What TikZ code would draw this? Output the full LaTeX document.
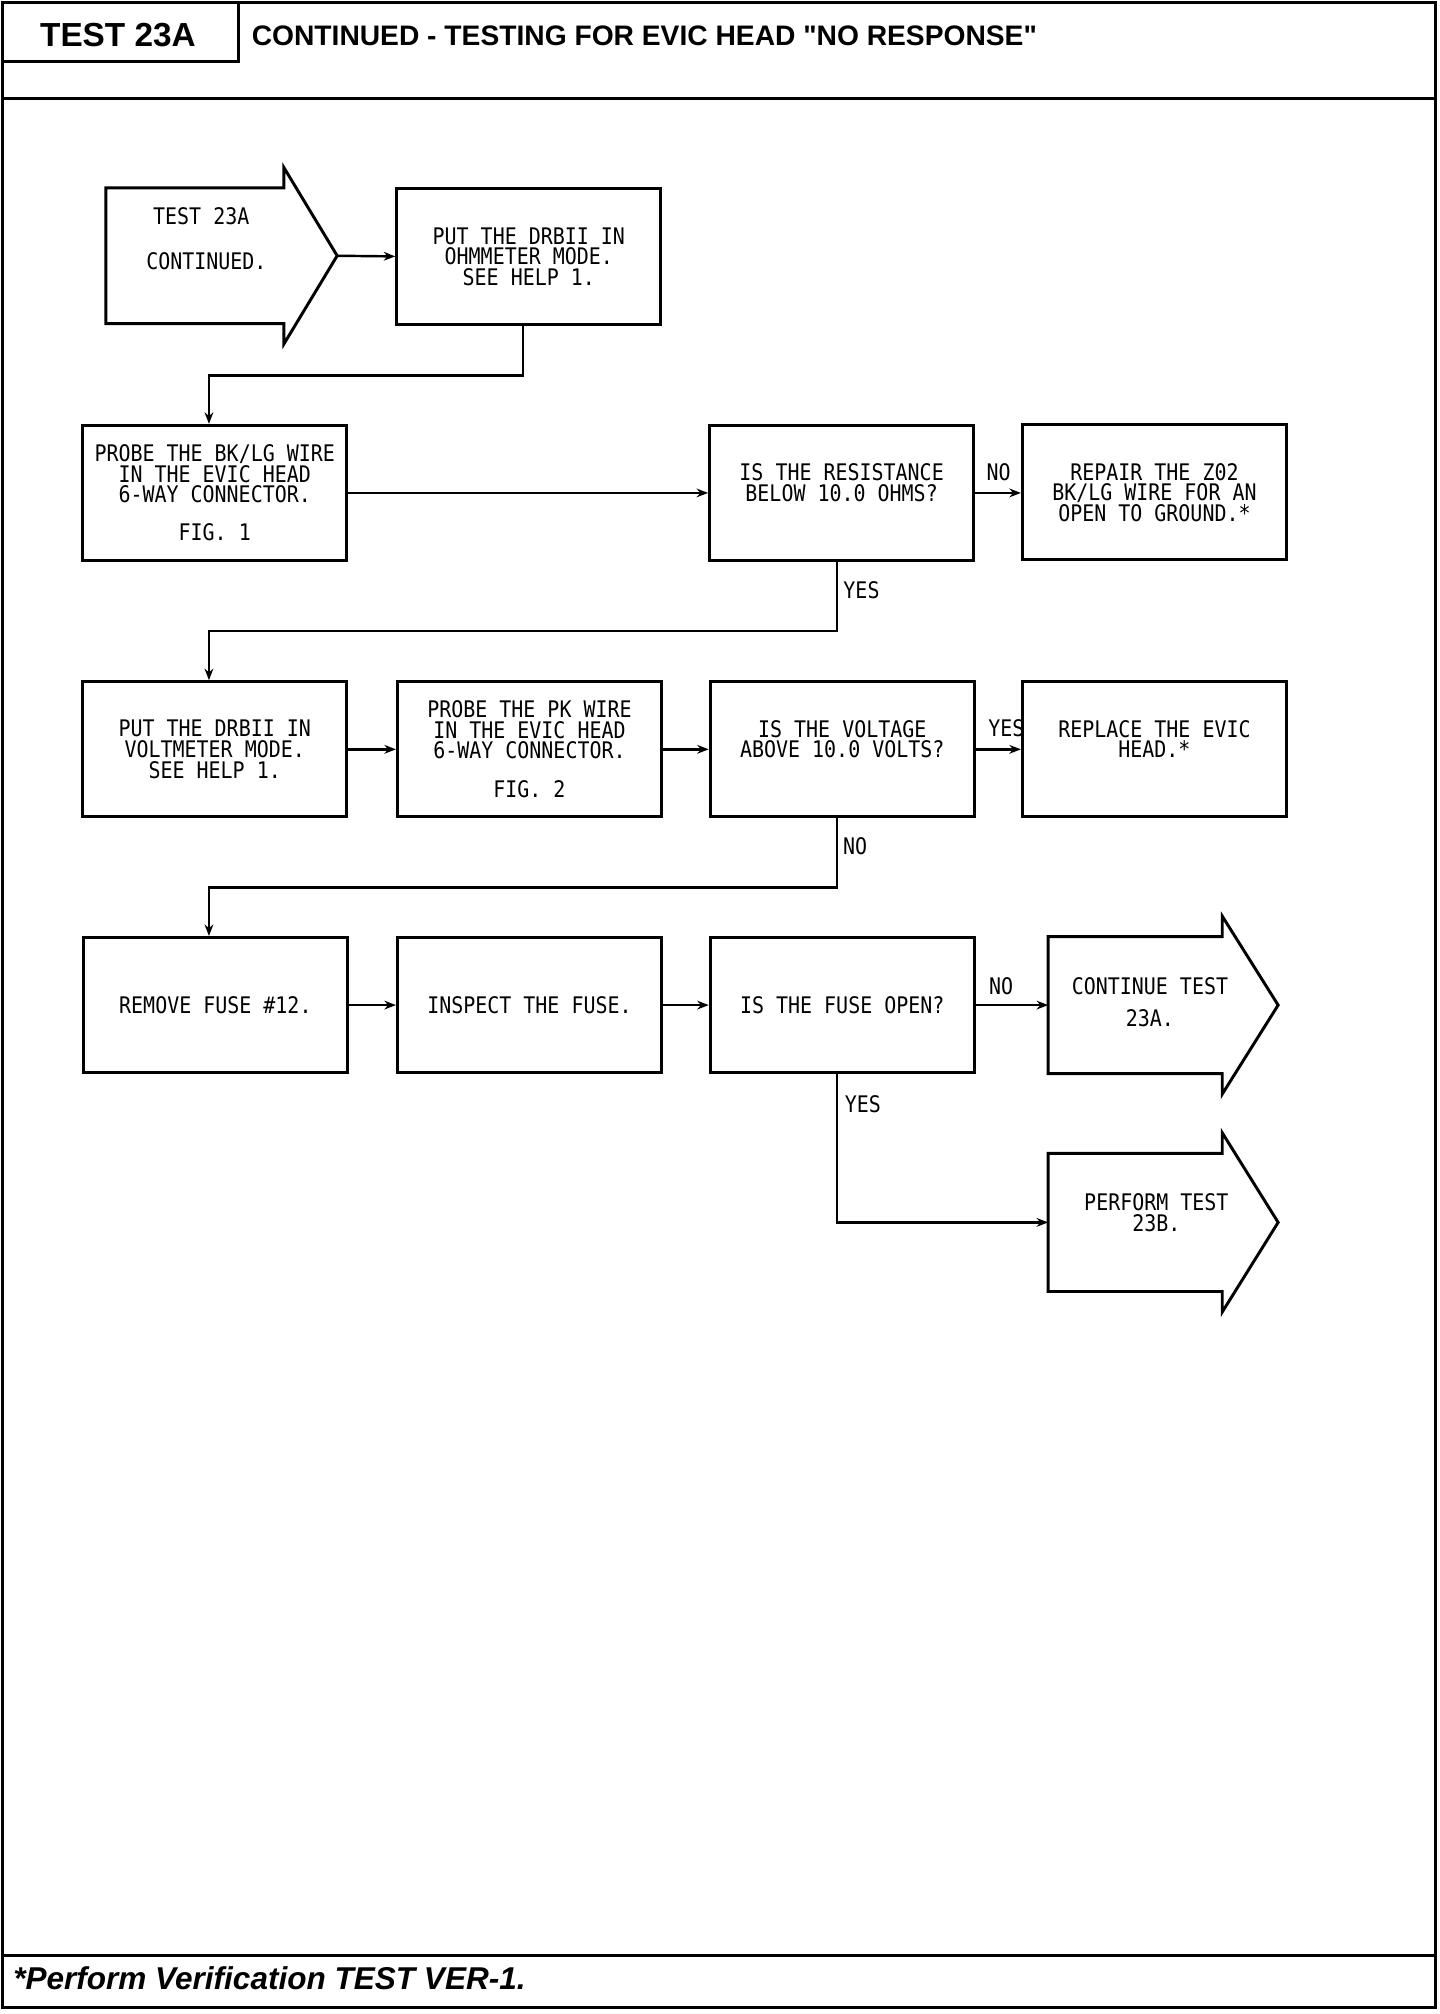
\documentclass[tikz,border=0pt]{standalone}
\usepackage{fontspec}
\setmainfont{Liberation Sans}
\newfontfamily\plotfont[FakeStretch=0.875]{DejaVu Sans Mono}
\newcommand\plottxt{\plotfont\fontsize{8.9}{8}\selectfont\lineskiplimit=-20pt}
\usetikzlibrary{arrows.meta,calc}
\begin{document}
\begin{tikzpicture}[x=0.5pt,y=-0.5pt,
  bordr/.style={line width=1.2pt},
  boxnode/.style={draw,line width=1.15pt,inner sep=0pt,align=center,
     minimum width=103pt,minimum height=52.75pt,font=\plottxt},
  bodynode/.style={inner sep=0pt},
  outl/.style={line width=1.15pt,line join=miter},
  plot/.style={inner sep=0pt,align=center,font=\plottxt},
  lbl/.style={inner sep=0pt,font=\plottxt},
  conn/.style={line width=0.95pt,-{Stealth[length=4.5pt,width=3.4pt]}}]
\useasboundingbox (0,0) rectangle (1123,1571);
% frame
\draw[bordr] (2,2) rectangle (1120,1566);
\draw[bordr] (2,77) -- (1120,77);
\draw[bordr] (2,1525) -- (1120,1525);
\draw[bordr] (2,2) rectangle (186,48);
\node[inner sep=0pt,font=\bfseries\fontsize{13}{13}\selectfont] (hdr) at (92,27) {TEST 23A};
\node[anchor=west,inner sep=0pt,font=\bfseries\fontsize{11}{11}\selectfont] (title) at (196,28) {CONTINUED - TESTING FOR EVIC HEAD \textquotedbl NO RESPONSE\textquotedbl};
\node[anchor=west,inner sep=0pt,font=\bfseries\itshape\fontsize{12.3}{12}\selectfont] (foot) at (10,1543) {*Perform Verification TEST VER-1.};

% start arrow
\node[bodynode,minimum width=69pt,minimum height=52.5pt] (st) at (152,199.5) {};
\coordinate (sttip) at (263,199.5);
\draw[outl] (st.north east) -- (st.north west) -- (st.south west) -- (st.south east)
   -- ($(st.south east)+(0,16)$) -- (sttip) -- ($(st.north east)+(0,-16)$) -- cycle;
\node[plot] (st1) at (157,169) {TEST 23A};
\node[plot] (st2) at (161,204) {CONTINUED.};

% row 1
\node[boxnode] (b1) at (412.5,200) {PUT THE DRBII IN\\OHMMETER MODE.\\SEE HELP 1.};

% row 2
\node[boxnode] (r2a) at (167.5,384.5) {PROBE THE BK/LG WIRE\\IN THE EVIC HEAD\\6-WAY CONNECTOR.\\[7pt]FIG. 1};
\node[boxnode] (r2b) at (656.5,384.5) {IS THE RESISTANCE\\BELOW 10.0 OHMS?\\~};
\node[boxnode] (r2c) at (900.5,384) {REPAIR THE Z02\\BK/LG WIRE FOR AN\\OPEN TO GROUND.*};

% row 3
\node[boxnode] (r3a) at (167.5,584.5) {PUT THE DRBII IN\\VOLTMETER MODE.\\SEE HELP 1.};
\node[boxnode] (r3b) at (413,584.5) {PROBE THE PK WIRE\\IN THE EVIC HEAD\\6-WAY CONNECTOR.\\[7pt]FIG. 2};
\node[boxnode] (r3c) at (657,584.5) {IS THE VOLTAGE\\ABOVE 10.0 VOLTS?\\~};
\node[boxnode] (r3d) at (900.5,584.5) {REPLACE THE EVIC\\HEAD.*\\~};

% row 4
\node[boxnode] (r4a) at (168,784) {REMOVE FUSE \#12.};
\node[boxnode] (r4b) at (413,784) {INSPECT THE FUSE.};
\node[boxnode] (r4c) at (657,784) {IS THE FUSE OPEN?};

% end arrows
\node[bodynode,minimum width=67.5pt,minimum height=53pt] (e1) at (885.5,784) {};
\coordinate (e1tip) at (997,784);
\draw[outl] (e1.north east) -- (e1.north west) -- (e1.south west) -- (e1.south east)
   -- ($(e1.south east)+(0,16)$) -- (e1tip) -- ($(e1.north east)+(0,-16)$) -- cycle;
\node[plot] (e1t) at (897,781.5) {CONTINUE TEST\\[4.5pt]23A.};

\node[bodynode,minimum width=67.5pt,minimum height=53.5pt] (e2) at (885.5,953.5) {};
\coordinate (e2tip) at (997,953.5);
\draw[outl] (e2.north east) -- (e2.north west) -- (e2.south west) -- (e2.south east)
   -- ($(e2.south east)+(0,16)$) -- (e2tip) -- ($(e2.north east)+(0,-16)$) -- cycle;
\node[plot] (e2t) at (902,946) {PERFORM TEST\\23B.};

% connectors
\draw[conn] (sttip) -- (b1.west);
\draw[conn] ([xshift=-2.25pt]b1.south) -- ++(0,39) -| ([xshift=-2.25pt]r2a.north);
\draw[conn] (r2a.east) -- (r2b.west);
\draw[conn] (r2b.east) -- (r2b.east -| r2c.west);
\node[lbl] (no1) at (779,368) {NO};
\draw[conn] ([xshift=-1.75pt]r2b.south) -- ++(0,54) -| ([xshift=-2.25pt]r3a.north);
\node[lbl] (yes1) at (672,460) {YES};

\draw[conn] (r3a.east) -- (r3b.west);
\draw[conn] (r3b.east) -- (r3c.west);
\draw[conn] (r3c.east) -- (r3d.west);
\node[lbl] (yes2) at (785,568) {YES};
\draw[conn] ([xshift=-2pt]r3c.south) -- ++(0,54) -| ([xshift=-2.5pt]r4a.north);
\node[lbl] (no2) at (667,660) {NO};

\draw[conn] (r4a.east) -- (r4b.west);
\draw[conn] (r4b.east) -- (r4c.west);
\draw[conn] (r4c.east) -- (e1.west);
\node[lbl] (no3) at (781,769) {NO};
\draw[conn] ([xshift=-2pt]r4c.south) |- (e2.west);
\node[lbl] (yes3) at (673,861) {YES};
\end{tikzpicture}
\end{document}
